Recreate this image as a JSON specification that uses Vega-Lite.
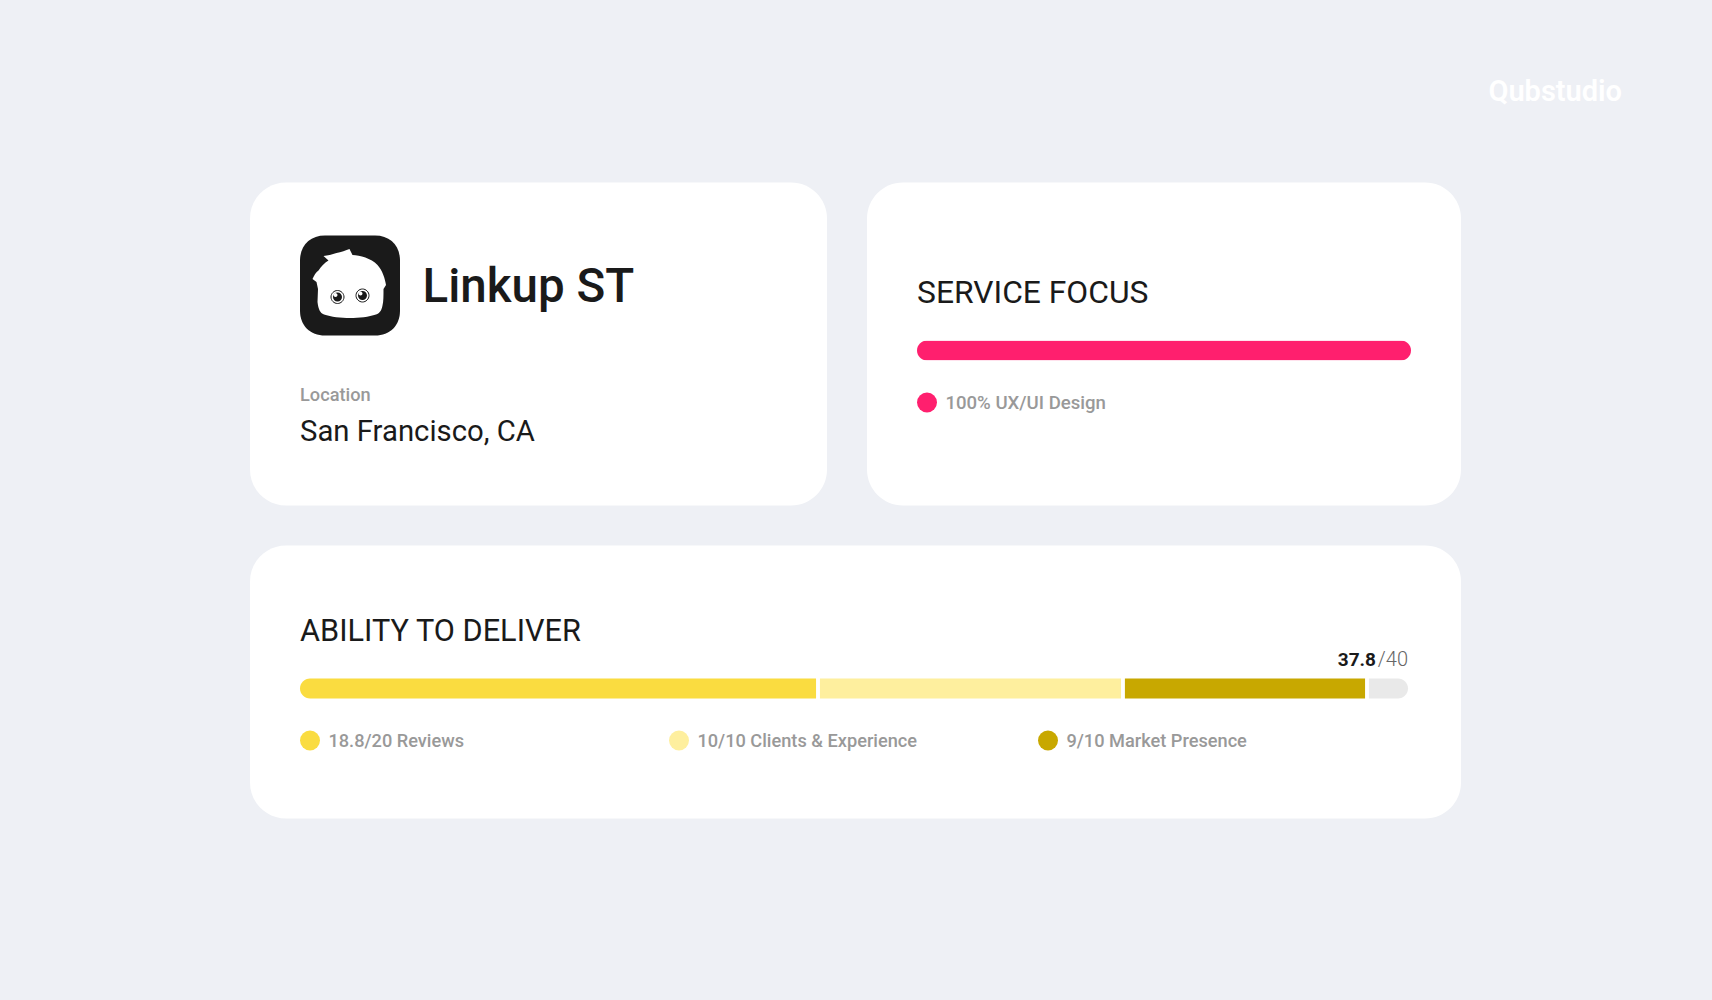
{
  "$schema": "https://vega.github.io/schema/vega-lite/v6.json",
  "background": "#EEF0F5",
  "padding": {"left": 250, "top": 77.5, "right": 90, "bottom": 182},
  "title": {
    "text": "Qubstudio",
    "anchor": "end",
    "dx": 161,
    "offset": 52.5,
    "baseline": "alphabetic",
    "fontSize": 29,
    "fontWeight": 600,
    "font": "Roboto",
    "color": "#FFFFFF"
  },
  "config": {
    "font": "Roboto",
    "view": {"stroke": null, "fill": "#FFFFFF", "cornerRadius": 36},
    "text": {"align": "left", "baseline": "alphabetic", "color": "#1A1A1A"}
  },
  "datasets": {
    "focus": [{"service": "UX/UI Design", "share": 100, "label": "100% UX/UI Design"}],
    "segments": [
      {"segment": "Reviews", "start": 0, "end": 18.63, "label": "18.8/20 Reviews"},
      {"segment": "Clients & Experience", "start": 18.77, "end": 29.64, "label": "10/10 Clients & Experience"},
      {"segment": "Market Presence", "start": 29.78, "end": 38.45, "label": "9/10 Market Presence"},
      {"segment": "Remaining", "start": 38.59, "end": 40, "label": ""}
    ]
  },
  "vconcat": [
    {
      "hconcat": [
        {
          "width": 577,
          "height": 323,
          "data": {"values": [{"part": "logo"}]},
          "encoding": {
            "y": {"datum": "logo", "type": "nominal", "axis": null,
              "scale": {"type": "point", "domain": ["logo", "location", "city"], "range": [103, 248], "padding": 0}},
            "x": {"datum": "logo", "type": "nominal", "axis": null,
              "scale": {"type": "point", "domain": ["left", "logo", "name"], "range": [50, 150], "padding": 0}}
          },
          "layer": [
            {"mark": {"type": "point", "filled": true, "opacity": 1, "size": 10000, "color": "#1A1A1A",
              "shape": "M-0.5,-1 L0.5,-1 C0.8,-1 1,-0.8 1,-0.5 L1,0.5 C1,0.8 0.8,1 0.5,1 L-0.5,1 C-0.8,1 -1,0.8 -1,0.5 L-1,-0.5 C-1,-0.8 -0.8,-1 -0.5,-1 Z"}},
            {"mark": {"type": "point", "filled": true, "opacity": 1, "size": 10000, "color": "#FFFFFF",
              "shape": "M-0.53,-0.59 C-0.45,-0.6 -0.36,-0.62 -0.27,-0.65 C-0.18,-0.67 -0.08,-0.7 -0.01,-0.73 L0.05,-0.61 C0.2,-0.6 0.42,-0.55 0.55,-0.41 C0.65,-0.3 0.7,-0.14 0.72,-0.01 L0.67,0.07 C0.67,0.2 0.67,0.32 0.65,0.4 C0.63,0.5 0.6,0.55 0.52,0.58 C0.38,0.63 0.18,0.65 0,0.65 C-0.18,0.65 -0.38,0.63 -0.52,0.58 C-0.6,0.55 -0.63,0.48 -0.65,0.33 L-0.64,0.07 L-0.67,-0.07 L-0.75,-0.13 C-0.72,-0.2 -0.68,-0.27 -0.63,-0.3 C-0.58,-0.38 -0.5,-0.46 -0.43,-0.5 Z"}},
            {"mark": {"type": "point", "filled": false, "opacity": 1, "size": 10000, "color": "#1A1A1A", "strokeWidth": 1,
              "shape": "M-0.12,0.23 C-0.12,0.3 -0.18,0.36 -0.25,0.36 C-0.32,0.36 -0.38,0.3 -0.38,0.23 C-0.38,0.16 -0.32,0.1 -0.25,0.1 C-0.18,0.1 -0.12,0.16 -0.12,0.23 Z M0.38,0.2 C0.38,0.27 0.32,0.33 0.25,0.33 C0.18,0.33 0.12,0.27 0.12,0.2 C0.12,0.13 0.18,0.07 0.25,0.07 C0.32,0.07 0.38,0.13 0.38,0.2 Z"}},
            {"mark": {"type": "point", "filled": true, "opacity": 1, "size": 10000, "color": "#1A1A1A",
              "shape": "M-0.16,0.23 C-0.16,0.28 -0.2,0.32 -0.25,0.32 C-0.3,0.32 -0.34,0.28 -0.34,0.23 C-0.34,0.18 -0.3,0.14 -0.25,0.14 C-0.2,0.14 -0.16,0.18 -0.16,0.23 Z M0.34,0.2 C0.34,0.25 0.3,0.29 0.25,0.29 C0.2,0.29 0.16,0.25 0.16,0.2 C0.16,0.15 0.2,0.11 0.25,0.11 C0.3,0.11 0.34,0.15 0.34,0.2 Z"}},
            {"mark": {"type": "point", "filled": true, "opacity": 1, "size": 10000, "color": "#FFFFFF",
              "shape": "M-0.25,0.19 C-0.25,0.21 -0.27,0.23 -0.29,0.23 C-0.31,0.23 -0.33,0.21 -0.33,0.19 C-0.33,0.17 -0.31,0.15 -0.29,0.15 C-0.27,0.15 -0.25,0.17 -0.25,0.19 Z M0.25,0.16 C0.25,0.18 0.23,0.2 0.21,0.2 C0.19,0.2 0.17,0.18 0.17,0.16 C0.17,0.14 0.19,0.12 0.21,0.12 C0.23,0.12 0.25,0.14 0.25,0.16 Z"}},
            {
              "data": {"values": [{"label": "Linkup ST"}]},
              "mark": {"type": "text", "dx": 22.5, "dy": 16.7, "fontSize": 47.5, "fontWeight": 500},
              "encoding": {"x": {"datum": "name"}, "text": {"field": "label"}}
            },
            {
              "data": {"values": [{"label": "Location"}]},
              "mark": {"type": "text", "dy": 42.5, "fontSize": 18.2, "fontWeight": 500, "color": "#999999"},
              "encoding": {"x": {"datum": "left"}, "y": {"datum": "location"}, "text": {"field": "label"}}
            },
            {
              "data": {"values": [{"label": "San Francisco, CA"}]},
              "mark": {"type": "text", "dy": 10.7, "fontSize": 29.3, "fontWeight": 400},
              "encoding": {"x": {"datum": "left"}, "y": {"datum": "city"}, "text": {"field": "label"}}
            }
          ]
        },
        {
          "width": 594,
          "height": 323,
          "encoding": {
            "y": {"datum": "bar", "type": "nominal", "axis": null,
              "scale": {"type": "point", "domain": ["title", "bar", "legend"], "range": [116, 220], "padding": 0}}
          },
          "layer": [
            {
              "data": {"values": [{"label": "SERVICE FOCUS"}]},
              "mark": {"type": "text", "dy": 4.7, "fontSize": 31.8, "fontWeight": 400},
              "encoding": {
                "x": {"datum": 0, "type": "quantitative", "axis": null, "scale": {"domain": [0, 100], "range": [50, 544]}},
                "y": {"datum": "title"},
                "text": {"field": "label"}
              }
            },
            {
              "data": {"name": "focus"},
              "mark": {"type": "bar", "height": 20, "cornerRadius": 10, "color": "#FF1F6E"},
              "encoding": {
                "x": {"field": "share", "type": "quantitative", "axis": null, "scale": {"domain": [0, 100], "range": [50, 544]}}
              }
            },
            {
              "data": {"name": "focus"},
              "mark": {"type": "circle", "size": 400, "opacity": 1, "color": "#FF1F6E"},
              "encoding": {
                "x": {"field": "service", "type": "nominal", "axis": null, "scale": {"type": "point", "range": [60, 60], "padding": 0}},
                "y": {"datum": "legend"}
              }
            },
            {
              "data": {"name": "focus"},
              "mark": {"type": "text", "dx": 18.4, "dy": 6.3, "fontSize": 18.6, "fontWeight": 500, "color": "#999999"},
              "encoding": {
                "x": {"field": "service", "type": "nominal", "axis": null, "scale": {"type": "point", "range": [60, 60], "padding": 0}},
                "y": {"datum": "legend"},
                "text": {"field": "label"}
              }
            }
          ],
          "resolve": {"scale": {"x": "independent"}}
        }
      ],
      "spacing": 40
    },
    {
      "width": 1211,
      "height": 273,
      "encoding": {
        "y": {"datum": "bar", "type": "nominal", "axis": null,
          "scale": {"type": "point", "domain": ["title", "bar", "legend"], "range": [91, 195], "padding": 0}}
      },
      "layer": [
        {
          "data": {"values": [{"label": "ABILITY TO DELIVER"}]},
          "mark": {"type": "text", "dy": 4.7, "fontSize": 30.7, "fontWeight": 400},
          "encoding": {
            "x": {"datum": 0, "type": "quantitative", "axis": null, "scale": {"domain": [0, 40], "range": [50, 1158]}},
            "y": {"datum": "title"},
            "text": {"field": "label"}
          }
        },
        {
          "data": {"values": [{"score": 40, "label": "37.8"}]},
          "mark": {"type": "text", "align": "right", "dx": -32, "dy": 29, "fontSize": 19, "fontWeight": 700},
          "encoding": {
            "x": {"field": "score", "type": "quantitative", "axis": null, "scale": {"domain": [0, 40], "range": [50, 1158]}},
            "y": {"datum": "title"},
            "text": {"field": "label"}
          }
        },
        {
          "data": {"values": [{"score": 40, "label": "/40"}]},
          "mark": {"type": "text", "align": "right", "dy": 29, "fontSize": 20, "fontWeight": 300, "color": "#666666"},
          "encoding": {
            "x": {"field": "score", "type": "quantitative", "axis": null, "scale": {"domain": [0, 40], "range": [50, 1158]}},
            "y": {"datum": "title"},
            "text": {"field": "label"}
          }
        },
        {
          "data": {"name": "segments"},
          "mark": {
            "type": "bar",
            "height": 20,
            "cornerRadiusTopLeft": {"expr": "datum.segment == 'Reviews' ? 10 : 0"},
            "cornerRadiusBottomLeft": {"expr": "datum.segment == 'Reviews' ? 10 : 0"},
            "cornerRadiusTopRight": {"expr": "datum.segment == 'Remaining' ? 10 : 0"},
            "cornerRadiusBottomRight": {"expr": "datum.segment == 'Remaining' ? 10 : 0"}
          },
          "encoding": {
            "x": {"field": "start", "type": "quantitative", "axis": null, "scale": {"domain": [0, 40], "range": [50, 1158]}},
            "x2": {"field": "end"},
            "color": {"field": "segment", "type": "nominal", "legend": null,
              "scale": {"domain": ["Reviews", "Clients & Experience", "Market Presence", "Remaining"], "range": ["#FADC40", "#FEEF9E", "#C8A800", "#E9E9E9"]}}
          }
        },
        {
          "data": {"name": "segments"},
          "transform": [{"filter": "datum.segment != 'Remaining'"}],
          "mark": {"type": "circle", "size": 400, "opacity": 1},
          "encoding": {
            "x": {"field": "segment", "type": "nominal", "axis": null,
              "scale": {"type": "point", "domain": ["Reviews", "Clients & Experience", "Market Presence"], "range": [60, 798], "padding": 0}},
            "y": {"datum": "legend"},
            "color": {"field": "segment", "type": "nominal", "legend": null}
          }
        },
        {
          "data": {"name": "segments"},
          "transform": [{"filter": "datum.segment != 'Remaining'"}],
          "mark": {"type": "text", "dx": 18.4, "dy": 6, "fontSize": 18.2, "fontWeight": 500, "color": "#999999"},
          "encoding": {
            "x": {"field": "segment", "type": "nominal", "axis": null,
              "scale": {"type": "point", "domain": ["Reviews", "Clients & Experience", "Market Presence"], "range": [60, 798], "padding": 0}},
            "y": {"datum": "legend"},
            "text": {"field": "label"}
          }
        }
      ],
      "resolve": {"scale": {"x": "independent"}}
    }
  ],
  "spacing": 40
}
